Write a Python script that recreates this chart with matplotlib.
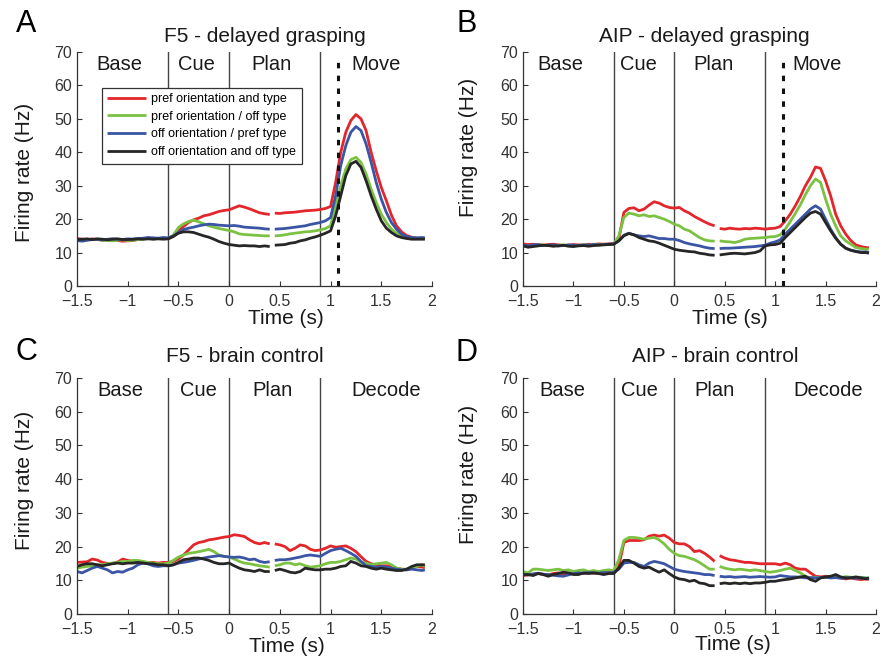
import numpy as np
import matplotlib.pyplot as plt

plt.rcParams['font.family'] = ['Liberation Sans', 'DejaVu Sans']
plt.rcParams['axes.unicode_minus'] = True

# time grid (s): recording splits into two segments with a gap after 0.4 s
t_pre = np.round(np.arange(-1.5, 0.401, 0.05), 2)
t_post = np.append(np.round(np.arange(0.45, 1.901, 0.05), 2), 1.93)

series_labels = ['pref orientation and type', 'pref orientation / off type',
                 'off orientation / pref type', 'off orientation and off type']
series_colors = ['#e3262b', '#7cc242', '#3b55a5', '#262626']

# firing rates (Hz), 39 values for t_pre followed by 31 for t_post
A_RED = [14.2, 14.0, 13.8, 14.1, 13.9, 13.7, 13.9, 14.0, 13.6, 13.4, 13.5, 13.6, 13.9, 14.2, 14.3, 14.1, 14.2, 14.3, 14.2,
         15.0, 16.6, 17.8, 19.0, 19.8, 20.3, 21.0, 21.3, 21.8, 22.3, 22.6, 22.8, 23.4, 24.0, 23.6, 23.1, 22.5, 21.9, 21.6, 21.4,
         21.8, 21.7, 21.9, 22.0, 22.1, 22.3, 22.5, 22.6, 22.7, 22.9, 23.2, 23.8, 31.0, 40.0, 46.0, 49.5, 51.3, 50.0, 46.5, 40.0,
         34.5, 29.5, 25.5, 21.2, 18.0, 16.2, 15.1, 14.6, 14.3, 14.2, 14.2]
A_GREEN = [13.8, 13.6, 13.8, 13.9, 14.0, 13.7, 13.6, 13.5, 13.7, 13.8, 13.6, 13.7, 13.9, 14.0, 14.2, 14.3, 14.2, 14.3, 14.2,
           15.2, 17.5, 18.6, 19.3, 19.7, 19.2, 18.6, 18.0, 17.6, 17.2, 16.9, 16.6, 16.2, 15.6, 15.4, 15.3, 15.2, 15.1, 15.0, 15.0,
           15.0, 15.1, 15.3, 15.6, 15.8, 16.0, 16.2, 16.3, 16.5, 16.8, 17.2, 18.0, 24.0, 30.0, 35.0, 37.8, 38.5, 37.0, 33.5, 29.0,
           25.0, 21.5, 19.0, 17.0, 15.8, 15.0, 14.6, 14.4, 14.3, 14.3, 14.3]
A_BLUE = [13.6, 13.4, 13.7, 13.9, 14.0, 13.8, 14.0, 14.1, 14.0, 13.9, 14.1, 14.0, 14.2, 14.3, 14.5, 14.4, 14.3, 14.5, 14.4,
          15.0, 16.0, 16.9, 17.3, 17.6, 18.0, 18.3, 18.5, 18.4, 18.2, 18.1, 18.0, 18.1, 17.9, 17.6, 17.5, 17.4, 17.3, 17.1, 17.0,
          17.0, 17.1, 17.2, 17.4, 17.6, 17.8, 18.0, 18.4, 18.7, 19.0, 19.5, 20.5, 27.0, 36.0, 42.0, 46.0, 47.7, 46.5, 42.5, 37.0,
          31.0, 26.0, 22.0, 19.0, 17.0, 15.5, 14.8, 14.5, 14.4, 14.5, 14.4]
A_BLACK = [13.9, 14.0, 14.1, 13.9, 14.1, 14.0, 13.8, 14.0, 14.1, 13.9, 13.9, 14.0, 14.1, 14.0, 14.1, 14.0, 14.1, 14.0, 14.1,
           14.8, 15.8, 16.2, 16.2, 16.0, 15.5, 15.0, 14.6, 14.0, 13.3, 12.8, 12.4, 12.2, 12.0, 12.1, 12.0, 12.0, 11.8, 12.0, 11.8,
           12.2, 12.3, 12.4, 12.8, 13.0, 13.5, 13.8, 14.3, 14.7, 15.2, 15.8, 16.5, 21.0, 27.0, 33.0, 36.5, 37.3, 35.5, 31.5, 27.0,
           23.0, 19.5, 17.3, 16.0, 15.0, 14.5, 14.2, 14.0, 14.0, 14.0, 14.0]

B_RED = [12.6, 12.4, 12.5, 12.3, 12.2, 12.4, 12.5, 12.3, 12.1, 12.2, 12.4, 12.3, 12.2, 12.5, 12.4, 12.6, 12.5, 12.6, 12.7,
         14.0, 22.0, 23.2, 23.4, 22.5, 23.0, 24.2, 25.2, 24.8, 24.0, 23.5, 23.3, 23.5, 22.5, 21.8, 20.8, 20.0, 19.2, 18.5, 18.0,
         17.2, 17.0, 17.3, 17.1, 17.0, 17.2, 17.1, 17.3, 17.2, 17.0, 17.2, 17.3, 17.8, 19.5, 21.5, 24.0, 26.8, 30.0, 32.5, 35.6,
         35.2, 31.5, 27.0, 21.5, 18.0, 15.5, 13.6, 12.3, 11.8, 11.5, 11.4]
B_GREEN = [12.0, 11.8, 12.1, 12.2, 12.3, 12.1, 12.0, 12.2, 12.3, 12.1, 12.0, 12.2, 12.3, 12.2, 12.4, 12.3, 12.5, 12.4, 12.5,
           15.0, 20.5, 21.8, 21.5, 21.0, 21.3, 20.8, 21.0, 20.5, 20.0, 19.3, 18.5, 18.0, 17.0, 16.5, 15.5, 14.5, 13.8, 13.5, 13.4,
           13.5, 13.3, 13.2, 13.0, 13.4, 14.0, 14.2, 14.3, 14.4, 14.5, 14.7, 14.8, 15.3, 17.0, 19.3, 21.7, 24.3, 27.3, 30.0, 32.0,
           31.0, 26.0, 21.5, 18.0, 15.0, 13.5, 12.5, 11.5, 11.2, 11.0, 11.0]
B_BLUE = [12.2, 12.0, 12.3, 12.4, 12.1, 12.2, 12.3, 12.0, 12.1, 12.3, 12.2, 12.1, 12.3, 12.2, 12.4, 12.3, 12.4, 12.5, 12.6,
          13.5, 15.2, 15.8, 15.3, 15.0, 14.8, 15.0, 14.6, 14.2, 14.2, 14.0, 14.0, 13.6, 13.0, 12.6, 12.3, 12.0, 11.6, 11.3, 11.2,
          11.2, 11.3, 11.3, 11.4, 11.5, 11.6, 11.7, 11.8, 12.0, 12.2, 12.8, 13.2, 13.8, 15.5, 17.0, 18.5, 20.0, 21.5, 23.0, 24.0,
          23.0, 20.0, 17.0, 14.5, 12.5, 11.3, 10.7, 10.4, 10.2, 10.2, 10.0]
B_BLACK = [12.0, 11.6, 11.8, 12.0, 12.2, 12.1, 11.9, 12.0, 12.2, 11.9, 11.8, 12.0, 12.1, 11.9, 12.1, 12.2, 12.3, 12.4, 12.5,
           13.5, 15.0, 15.7, 15.3, 14.5, 14.0, 13.5, 13.3, 12.8, 12.2, 11.6, 11.0, 10.7, 10.5, 10.3, 10.2, 9.8, 9.6, 9.3, 9.2,
           9.3, 9.5, 9.7, 9.8, 9.7, 9.6, 9.8, 10.0, 10.5, 12.0, 12.3, 12.4, 12.8, 14.5, 16.0, 17.5, 19.0, 20.5, 21.8, 22.3,
           21.5, 19.0, 16.5, 14.3, 12.5, 11.3, 10.7, 10.3, 10.0, 10.0, 9.8]

C_RED = [15.3, 15.4, 15.5, 16.3, 16.0, 15.3, 15.0, 15.0, 15.4, 16.3, 15.9, 15.6, 15.6, 15.4, 15.3, 15.3, 15.1, 15.3, 15.3,
         15.6, 16.3, 17.5, 19.0, 20.5, 21.2, 21.5, 22.0, 22.2, 22.5, 22.8, 23.0, 23.5, 23.3, 23.0, 22.0, 21.2, 20.8, 21.2, 20.8,
         20.8, 20.5, 20.0, 18.8, 19.5, 20.5, 20.2, 19.2, 18.8, 19.0, 19.5, 20.2, 19.8, 20.0, 20.2, 19.5, 18.5, 17.0, 15.6, 14.9,
         14.6, 14.3, 14.3, 14.1, 13.6, 13.3, 13.1, 13.6, 14.1, 13.9, 13.8]
C_GREEN = [13.6, 13.9, 14.1, 14.3, 14.6, 14.6, 14.9, 15.1, 15.3, 15.6, 15.6, 15.9, 15.9, 15.6, 15.3, 15.1, 14.9, 14.9, 15.1,
           15.9, 16.9, 17.5, 18.0, 18.2, 18.5, 18.8, 19.2, 18.5, 17.5, 17.1, 16.9, 16.3, 15.6, 15.1, 14.9, 14.6, 14.3, 14.1, 13.9,
           14.3, 14.6, 15.1, 15.1, 14.6, 14.9, 14.3, 13.9, 14.1, 14.3, 14.9, 15.3, 15.3, 15.6, 16.1, 16.6, 16.3, 15.3, 15.1, 14.6,
           14.9, 15.1, 15.3, 14.6, 13.6, 13.3, 13.3, 13.6, 14.1, 14.6, 14.1]
C_BLUE = [12.6, 12.2, 12.9, 13.6, 14.1, 13.6, 13.1, 12.2, 12.6, 12.4, 13.1, 13.6, 14.6, 15.1, 14.9, 14.3, 14.1, 14.3, 14.3,
          14.6, 15.1, 15.3, 15.6, 15.9, 16.3, 16.6, 16.9, 17.1, 17.3, 17.1, 16.9, 16.8, 16.9, 16.6, 16.1, 16.3, 15.6, 15.3, 15.5,
          15.9, 16.1, 16.1, 16.3, 16.6, 16.9, 17.3, 17.5, 17.3, 17.1, 18.0, 18.8, 19.2, 19.5, 18.8, 18.0, 17.1, 15.6, 14.3, 14.1,
          13.9, 14.1, 13.9, 13.6, 13.3, 13.1, 13.1, 13.3, 13.1, 12.9, 13.1]
C_BLACK = [14.1, 14.6, 14.9, 14.9, 14.6, 14.3, 14.6, 14.9, 15.1, 14.9, 15.1, 15.1, 15.3, 15.1, 14.9, 14.9, 14.6, 14.6, 14.3,
           14.6, 15.3, 16.1, 16.3, 16.6, 16.6, 16.3, 15.9, 15.3, 14.9, 14.9, 15.1, 14.3, 13.6, 13.1, 12.9, 12.6, 13.1, 12.6, 12.6,
           12.9, 13.3, 12.9, 12.4, 12.2, 12.6, 13.6, 13.3, 13.1, 13.1, 13.3, 13.3, 13.6, 14.1, 14.3, 15.6, 15.1, 14.3, 14.1, 13.6,
           13.3, 13.6, 13.3, 13.1, 12.9, 12.9, 13.3, 14.1, 14.6, 14.6, 14.6]

D_RED = [11.4, 11.6, 11.8, 12.0, 11.8, 11.6, 12.0, 12.2, 11.8, 11.9, 12.1, 12.2, 12.0, 12.3, 12.1, 12.2, 12.3, 12.4, 12.3,
         14.1, 21.2, 21.8, 21.8, 21.8, 22.0, 23.1, 23.4, 23.1, 23.4, 22.5, 21.2, 20.8, 20.8, 20.0, 18.5, 18.8, 18.0, 16.9, 15.6,
         17.3, 16.6, 16.1, 15.9, 15.6, 15.3, 15.3, 15.1, 14.9, 14.9, 14.9, 14.9, 14.6, 15.1, 14.6, 13.6, 13.3, 13.3, 12.2, 11.2,
         11.0, 11.2, 11.0, 11.2, 10.7, 10.4, 10.7, 10.4, 10.2, 10.4, 10.2]
D_GREEN = [12.6, 12.2, 13.3, 13.3, 13.1, 12.9, 13.1, 13.3, 12.9, 13.1, 12.6, 12.9, 13.1, 12.6, 12.9, 12.6, 12.9, 13.1, 12.9,
           16.1, 21.8, 22.7, 22.7, 22.5, 22.2, 22.5, 22.7, 22.0, 20.8, 19.2, 18.0, 17.3, 17.1, 16.6, 16.1, 15.3, 14.3, 13.3, 13.3,
           14.1, 13.6, 13.3, 13.1, 13.3, 13.1, 12.9, 13.1, 12.9, 12.6, 12.4, 12.6, 12.9, 13.3, 13.6, 12.9, 12.2, 11.2, 10.7, 10.9,
           10.7, 10.9, 11.1, 10.9, 10.7, 11.1, 10.9, 10.9, 10.9, 10.7, 10.7]
D_BLUE = [11.7, 11.6, 11.9, 12.1, 11.8, 11.7, 11.5, 11.3, 11.2, 11.6, 12.0, 12.2, 12.1, 12.3, 12.2, 12.1, 12.3, 12.2, 12.4,
          13.3, 15.1, 15.3, 15.3, 14.6, 14.1, 15.1, 15.6, 15.3, 14.9, 14.1, 13.3, 12.9, 12.6, 12.4, 12.2, 12.0, 11.7, 11.7, 11.4,
          11.2, 11.0, 11.1, 10.9, 11.0, 11.1, 10.9, 11.0, 11.1, 11.0, 10.9, 11.0, 11.4, 11.2, 11.0, 11.0, 10.9, 10.7, 10.8, 10.7,
          10.8, 10.9, 10.7, 10.8, 10.6, 10.7, 10.8, 10.6, 10.7, 10.6, 10.6]
D_BLACK = [11.7, 11.7, 11.4, 12.0, 11.7, 11.2, 11.7, 12.0, 12.4, 12.2, 11.7, 11.7, 12.2, 12.0, 12.2, 12.0, 11.7, 12.0, 12.0,
           13.6, 15.9, 15.9, 15.1, 14.1, 13.6, 13.9, 13.1, 12.4, 13.1, 12.0, 11.0, 10.4, 10.2, 9.7, 10.0, 9.2, 9.0, 8.4, 8.4,
           9.0, 9.2, 9.0, 9.2, 9.0, 9.2, 9.0, 9.2, 9.2, 9.4, 9.7, 9.7, 10.0, 10.2, 10.4, 10.7, 11.0, 11.2, 10.2, 9.7,
           10.7, 11.0, 11.2, 11.7, 11.0, 10.7, 10.7, 11.0, 10.7, 10.4, 10.7]

epoch_lines = [-0.6, 0.0, 0.9]
move_onset = 1.075

W, H = 896, 659


def fig_xy(x, y):
    return x / W, 1 - y / H


fig = plt.figure(figsize=(W / 100, H / 100), dpi=100)

panels = [
    # letter, title, traces, axes box in px (left, top, right, bottom), phase names + x, text spots in px
    dict(letter='A', title='F5 - delayed grasping', traces=[A_RED, A_GREEN, A_BLUE, A_BLACK],
         box=(77, 52, 432, 286), phases=[('Base', -1.08), ('Cue', -0.32), ('Plan', 0.42), ('Move', 1.446)],
         dashed=True, legend=True, letter_xy=(26, 24), title_xy=(265, 36), xlabel_xy=(286, 319), ylabel_xy=(24, 172)),
    dict(letter='B', title='AIP - delayed grasping', traces=[B_RED, B_GREEN, B_BLUE, B_BLACK],
         box=(523, 52, 876, 286), phases=[('Base', -1.126), ('Cue', -0.36), ('Plan', 0.384), ('Move', 1.415)],
         dashed=True, legend=False, letter_xy=(467, 24), title_xy=(704, 36), xlabel_xy=(730, 319), ylabel_xy=(468, 147)),
    dict(letter='C', title='F5 - brain control', traces=[C_RED, C_GREEN, C_BLUE, C_BLACK],
         box=(77, 378, 432, 614), phases=[('Base', -1.071), ('Cue', -0.307), ('Plan', 0.428), ('Decode', 1.55)],
         dashed=False, legend=False, letter_xy=(26, 352), title_xy=(245, 357), xlabel_xy=(287, 646), ylabel_xy=(24, 480)),
    dict(letter='D', title='AIP - brain control', traces=[D_RED, D_GREEN, D_BLUE, D_BLACK],
         box=(523, 378, 876, 614), phases=[('Base', -1.113), ('Cue', -0.347), ('Plan', 0.394), ('Decode', 1.524)],
         dashed=False, legend=False, letter_xy=(466, 353), title_xy=(715, 357), xlabel_xy=(733, 645), ylabel_xy=(468, 474)),
]

n_pre = len(t_pre)
for p in panels:
    l, t, r, b = p['box']
    ax = fig.add_axes([l / W, 1 - b / H, (r - l) / W, (b - t) / H])

    for vals, col, lab in zip(p['traces'], series_colors, series_labels):
        vals = np.asarray(vals)
        ax.plot(t_pre, vals[:n_pre], color=col, lw=2.0, solid_capstyle='butt')
        ax.plot(t_post, vals[n_pre:], color=col, lw=2.0, solid_capstyle='butt', label=lab)

    for x0 in epoch_lines:
        ax.axvline(x0, color='#444444', lw=1.0, zorder=1)
    if p['dashed']:
        ax.plot([move_onset, move_onset], [0, 67], color='#111111', lw=2.2, dashes=(1.8, 2.4))

    for name, xp in p['phases']:
        ax.text(xp, 66.3, name, ha='center', va='center', fontsize=14.5, color='#1a1a1a')

    ax.set_xlim(-1.5, 2)
    ax.set_ylim(0, 70)
    ax.set_xticks([-1.5, -1, -0.5, 0, 0.5, 1, 1.5, 2])
    ax.set_xticklabels(['\u22121.5', '\u22121', '\u22120.5', '0', '0.5', '1', '1.5', '2'])
    ax.set_yticks(range(0, 71, 10))
    ax.tick_params(direction='in', length=3.5, width=0.8, labelsize=11.5, colors='#333333', pad=3.5)
    ax.tick_params(axis='x', pad=5.5)
    for s in ('top', 'right'):
        ax.spines[s].set_visible(False)
    for s in ('left', 'bottom'):
        ax.spines[s].set_color('#333333')
        ax.spines[s].set_linewidth(0.9)

    if p['legend']:
        leg = ax.legend(loc='upper left', bbox_to_anchor=(0.07, 0.848), fontsize=9, frameon=True,
                        fancybox=False, framealpha=1, edgecolor='#333333', handlelength=3.1,
                        handletextpad=0.4, labelspacing=0.45, borderpad=0.45, borderaxespad=0)
        leg.get_frame().set_linewidth(0.9)
        leg.set_zorder(5)

    fig.text(*fig_xy(*p['letter_xy']), p['letter'], fontsize=22, ha='center', va='center')
    fig.text(*fig_xy(*p['title_xy']), p['title'], fontsize=15, ha='center', va='center', color='#1a1a1a')
    fig.text(*fig_xy(*p['xlabel_xy']), 'Time (s)', fontsize=15, ha='center', va='center', color='#1a1a1a')
    fig.text(*fig_xy(*p['ylabel_xy']), 'Firing rate (Hz)', fontsize=15, ha='center', va='center',
             rotation=90, color='#1a1a1a')

fig.savefig('out.png', dpi=100)
